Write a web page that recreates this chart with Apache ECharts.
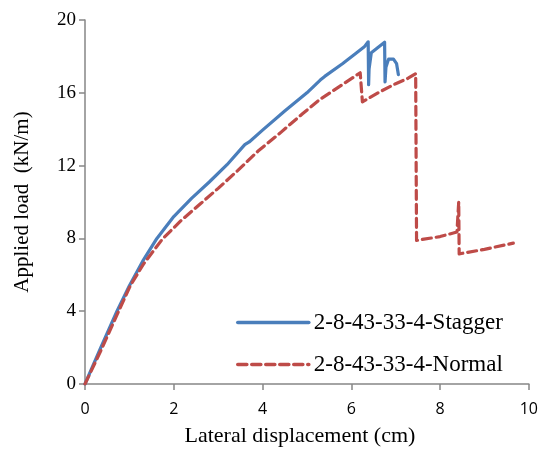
<!DOCTYPE html>
<html>
<head>
<meta charset="utf-8">
<script src="https://cdn.jsdelivr.net/npm/echarts@6/dist/echarts.min.js"></script>
<style>html,body{margin:0;padding:0;background:#fff}#c{width:541px;height:452px}</style>
</head>
<body>
<div id="c"></div>
<script>
var xTicks = [0, 2, 4, 6, 8, 10];
var yTicks = [0, 4, 8, 12, 16, 20];
var seriesNames = ['2-8-43-33-4-Stagger', '2-8-43-33-4-Normal'];
var staggerX = [0, 0.35, 0.72, 1.0, 1.3, 1.62, 2.0, 2.4, 2.8, 3.2, 3.6, 3.7, 4.0, 4.5, 5.0, 5.3, 5.4, 5.8, 6.12, 6.3, 6.38, 6.39, 6.40, 6.45, 6.75, 6.76, 6.78, 6.84, 6.95, 7.02, 7.06];
var staggerY = [0, 1.97, 4.0, 5.4, 6.75, 8.0, 9.2, 10.2, 11.1, 12.05, 13.15, 13.3, 13.95, 15.0, 16.0, 16.7, 16.9, 17.6, 18.2, 18.55, 18.8, 16.45, 17.3, 18.2, 18.78, 16.6, 17.4, 17.85, 17.85, 17.6, 17.0];
var normalX = [0, 0.35, 0.72, 1.02, 1.32, 1.74, 2.15, 2.6, 3.0, 3.45, 3.9, 4.4, 4.9, 5.3, 5.8, 6.2, 6.25, 6.6, 7.0, 7.28, 7.45, 7.47, 8.0, 8.38, 8.42, 8.43, 9.0, 9.65];
var normalY = [0, 1.8, 3.8, 5.4, 6.6, 7.95, 8.95, 9.9, 10.75, 11.75, 12.8, 13.8, 14.85, 15.65, 16.45, 17.1, 15.5, 16.0, 16.5, 16.8, 17.05, 7.89, 8.1, 8.35, 10.0, 7.15, 7.4, 7.74];

function pairs(xs, ys) { return xs.map(function (x, i) { return [x, ys[i]]; }); }

var chart = echarts.init(document.getElementById('c'), null, { renderer: 'canvas' });
var axisGray = '#868686';
chart.setOption({
  animation: false,
  backgroundColor: '#ffffff',
  grid: { left: 85, right: 12, top: 20, bottom: 67 },
  legend: {
    orient: 'vertical',
    left: 231,
    top: 306,
    itemWidth: 71,
    itemHeight: 12,
    itemGap: 19,
    itemStyle: { opacity: 0 },
    lineStyle: { width: 3.6 },
    textStyle: { fontFamily: 'Liberation Serif', fontSize: 23, color: '#000' },
    data: seriesNames
  },
  xAxis: {
    type: 'value', min: 0, max: 10, interval: 2,
    name: 'Lateral displacement (cm)', nameLocation: 'middle', nameGap: 41,
    nameTextStyle: { fontFamily: 'Liberation Serif', fontSize: 22, color: '#000', padding: [0, 14, 0, 0] },
    axisLine: { show: true, lineStyle: { color: axisGray, width: 1.5 } },
    axisTick: { show: true, length: 6, inside: false, lineStyle: { color: axisGray, width: 1.5 } },
    axisLabel: { fontFamily: 'Open Sans', fontSize: 16, color: '#000', margin: 17,
      formatter: function (v) { return xTicks.indexOf(v) >= 0 ? String(v) : ''; } },
    splitLine: { show: false }
  },
  yAxis: {
    type: 'value', min: 0, max: 20, interval: 4,
    name: 'Applied load  (kN/m)', nameLocation: 'middle', nameGap: 52,
    nameTextStyle: { fontFamily: 'Liberation Serif', fontSize: 21, color: '#000' },
    axisLine: { show: true, lineStyle: { color: axisGray, width: 1.5 } },
    axisTick: { show: true, length: 6, inside: false, lineStyle: { color: axisGray, width: 1.5 } },
    axisLabel: { fontFamily: 'Liberation Serif', fontSize: 19, color: '#000', margin: 9,
      formatter: function (v) { return yTicks.indexOf(v) >= 0 ? String(v) : ''; } },
    splitLine: { show: false }
  },
  series: [
    {
      name: seriesNames[0], type: 'line', data: pairs(staggerX, staggerY),
      symbol: 'none', smooth: false,
      lineStyle: { color: '#4A7EBB', width: 3.2, cap: 'round', join: 'round' },
      itemStyle: { color: '#4A7EBB' }
    },
    {
      name: seriesNames[1], type: 'line', data: pairs(normalX, normalY),
      symbol: 'none', smooth: false,
      lineStyle: { color: '#BE4B48', width: 3.2, type: [9, 5], cap: 'round', join: 'round' },
      itemStyle: { color: '#BE4B48' }
    }
  ]
});
</script>
</body>
</html>
